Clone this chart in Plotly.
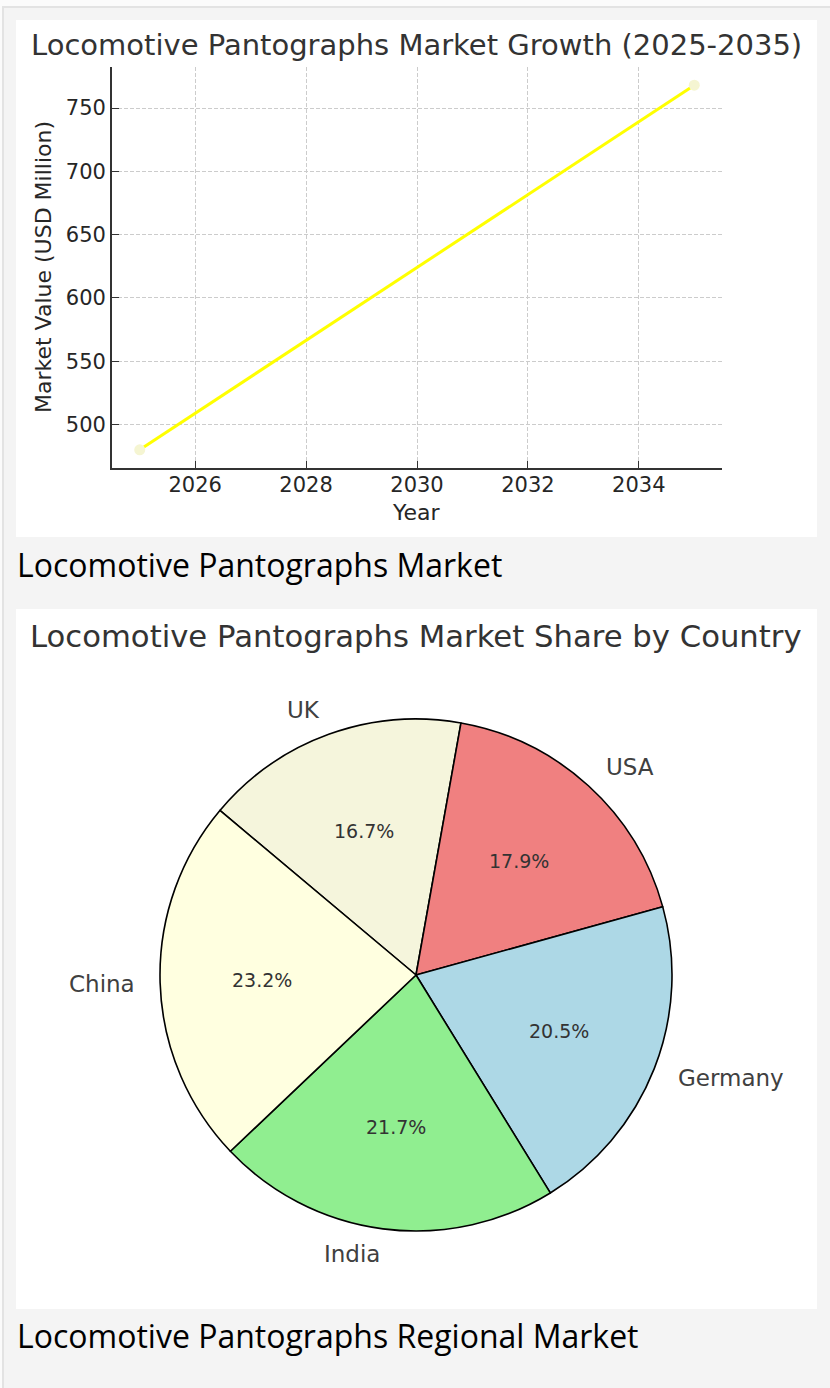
import math
import plotly.graph_objects as go

# ---------------- data ----------------
years = [2025, 2035]
market_values = [480, 768]

countries = ["China", "India", "Germany", "USA", "UK"]
shares = [23.2, 21.7, 20.5, 17.9, 16.7]
slice_colors = ["#FFFFE0", "#90EE90", "#ADD8E6", "#F08080", "#F5F5DC"]

x_ticks = [2026, 2028, 2030, 2032, 2034]
y_ticks = [500, 550, 600, 650, 700, 750]

line_title = "Locomotive Pantographs Market Growth (2025-2035)"
pie_title = "Locomotive Pantographs Market Share by Country"
caption1 = "Locomotive Pantographs Market"
caption2 = "Locomotive Pantographs Regional Market"

# ---------------- page geometry (pixels) ----------------
W, H = 830, 1388


def px(x):
    return x / W


def py(y):
    return 1 - y / H


fig = go.Figure()

# line chart
fig.add_trace(go.Scatter(
    x=years, y=market_values, mode="lines+markers",
    line=dict(color="#FFFF00", width=3),
    marker=dict(color="#F5F5D2", size=11),
    xaxis="x", yaxis="y", showlegend=False, hoverinfo="skip",
))

# pie chart (matplotlib-like: start at 140 deg, counterclockwise)
cx, cy, R = 416, 975, 256
start = 140.0
fig.add_trace(go.Pie(
    labels=countries[::-1], values=shares[::-1], sort=False, direction="clockwise",
    rotation=90 - start,
    marker=dict(colors=slice_colors[::-1], line=dict(color="#000000", width=1.6)),
    textinfo="none", hoverinfo="skip", showlegend=False,
    domain=dict(x=[px(cx - R), px(cx + R)], y=[py(cy + R), py(cy - R)]),
))

annotations = []
total = sum(shares)
acc = 0.0
for name, v in zip(countries, shares):
    a0 = start + acc / total * 360
    acc += v
    a1 = start + acc / total * 360
    mid = math.radians((a0 + a1) / 2)
    lx = cx + 1.1 * R * math.cos(mid)
    ly = cy - 1.1 * R * math.sin(mid)
    annotations.append(dict(
        x=px(lx), y=py(ly), xref="paper", yref="paper", text=name, showarrow=False,
        xanchor="left" if math.cos(mid) > 0 else "right", yanchor="middle",
        borderpad=0, borderwidth=0,
        font=dict(family="DejaVu Sans", size=23, color="#404040"),
    ))
    tx = cx + 0.6 * R * math.cos(mid)
    ty = cy - 0.6 * R * math.sin(mid)
    annotations.append(dict(
        x=px(tx), y=py(ty), xref="paper", yref="paper", text=f"{v / total * 100:.1f}%",
        showarrow=False, xanchor="center", yanchor="middle",
        font=dict(family="DejaVu Sans", size=19, color="#333333"),
    ))

annotations += [
    dict(x=px(416), y=py(45), xref="paper", yref="paper", text=line_title, showarrow=False,
         xanchor="center", yanchor="middle", font=dict(family="DejaVu Sans", size=29, color="#333333")),
    dict(x=px(416), y=py(636), xref="paper", yref="paper", text=pie_title, showarrow=False,
         xanchor="center", yanchor="middle", font=dict(family="DejaVu Sans", size=30.7, color="#333333")),
    dict(x=px(43), y=py(267), xref="paper", yref="paper", text="Market Value (USD Million)",
         showarrow=False, textangle=-90, xanchor="center", yanchor="middle",
         font=dict(family="DejaVu Sans", size=22, color="#262626")),
    dict(x=px(416), y=py(512), xref="paper", yref="paper", text="Year", showarrow=False,
         xanchor="center", yanchor="middle", font=dict(family="DejaVu Sans", size=22, color="#262626")),
    dict(x=px(15), y=py(564), xref="paper", yref="paper", text=caption1, showarrow=False,
         xanchor="left", yanchor="middle", font=dict(family="Open Sans", size=32, color="#000000")),
    dict(x=px(15), y=py(1335), xref="paper", yref="paper", text=caption2, showarrow=False,
         xanchor="left", yanchor="middle", font=dict(family="Open Sans", size=32, color="#000000")),
]

shapes = [
    dict(type="rect", xref="paper", yref="paper", x0=px(3), x1=px(W + 10), y0=py(H + 10), y1=py(7),
         fillcolor="#F4F4F4", line=dict(color="#E3E3E3", width=2), layer="below"),
    dict(type="rect", xref="paper", yref="paper", x0=px(16), x1=px(817), y0=py(537), y1=py(20),
         fillcolor="#FFFFFF", line=dict(width=0), layer="below"),
    dict(type="rect", xref="paper", yref="paper", x0=px(16), x1=px(817), y0=py(1309), y1=py(609),
         fillcolor="#FFFFFF", line=dict(width=0), layer="below"),
]

axis_font = dict(family="DejaVu Sans", size=21, color="#262626")
common_axis = dict(
    ticks="inside", ticklen=7, tickwidth=1.3, tickcolor="#333333",
    showline=True, linecolor="#333333", linewidth=1.7, mirror=False,
    showgrid=True, gridcolor="#CCCCCC", griddash="4px,2px", gridwidth=1,
    zeroline=False, tickfont=axis_font,
)
fig.update_layout(
    width=W, height=H, margin=dict(l=0, r=0, t=0, b=0),
    paper_bgcolor="#FBFBFB", plot_bgcolor="rgba(0,0,0,0)",
    xaxis=dict(domain=[px(112), px(722)], range=[2024.5, 2035.5], anchor="y",
               tickvals=x_ticks, ticklabelstandoff=-3, **common_axis),
    yaxis=dict(domain=[py(468), py(67)], range=[465.6, 782.4], anchor="x",
               tickvals=y_ticks, **common_axis),
    annotations=annotations, shapes=shapes,
)

fig.write_html("out.html")
